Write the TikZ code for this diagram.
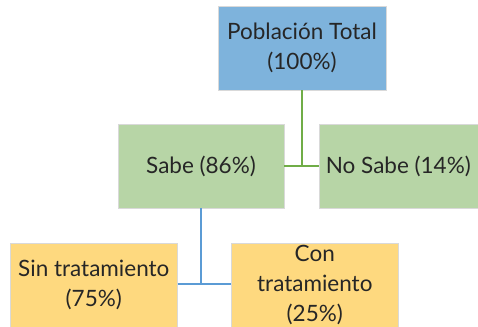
\documentclass[tikz,border=0pt]{standalone}
\usepackage{fontspec}
\setmainfont{Lato}
\definecolor{boxblue}{HTML}{7EB3DC}
\definecolor{boxgreen}{HTML}{B7D5A6}
\definecolor{boxyellow}{HTML}{FED97F}
\definecolor{linegreen}{HTML}{70AD47}
\definecolor{lineblue}{HTML}{5B9BD5}
\begin{document}
\begin{tikzpicture}[x=1pt,y=-1pt,
  box/.style={draw=white!85!black, line width=0.6pt, inner sep=0pt, align=center,
    font=\fontsize{22.5}{30}\selectfont, text=black!85},
  conn/.style={line width=2.8pt}]
\useasboundingbox (0,0) rectangle (478,326);
\node[box, fill=boxblue, minimum width=168pt, minimum height=84pt] (tot) at (302,48) {Población Total\\(100\%)};
\node[box, fill=boxgreen, minimum width=166pt, minimum height=84pt] (sabe) at (201,166) {Sabe (86\%)};
\node[box, fill=boxgreen, minimum width=162pt, minimum height=84pt, anchor=west] (nosabe) at (319,166) {No Sabe (14\%)\hspace*{4pt}};
\node[box, fill=boxyellow, minimum width=167pt, minimum height=84pt, anchor=north west] (sin) at (10,243) {Sin tratamiento\\(75\%)};
\node[box, fill=boxyellow, minimum width=167pt, minimum height=84pt, anchor=north west] (con) at (231,243) {Con\\tratamiento\\(25\%)};
\coordinate (gj) at (tot.south |- sabe.east);
\coordinate (bj) at (sabe.south |- 0,284);
\draw[conn, linegreen] (tot.south) -- (gj);
\draw[conn, linegreen] (sabe.east) -- (nosabe.west);
\draw[conn, lineblue] (sabe.south) -- (bj);
\draw[conn, lineblue] (sin.east |- bj) -- (con.west |- bj);
\end{tikzpicture}
\end{document}
